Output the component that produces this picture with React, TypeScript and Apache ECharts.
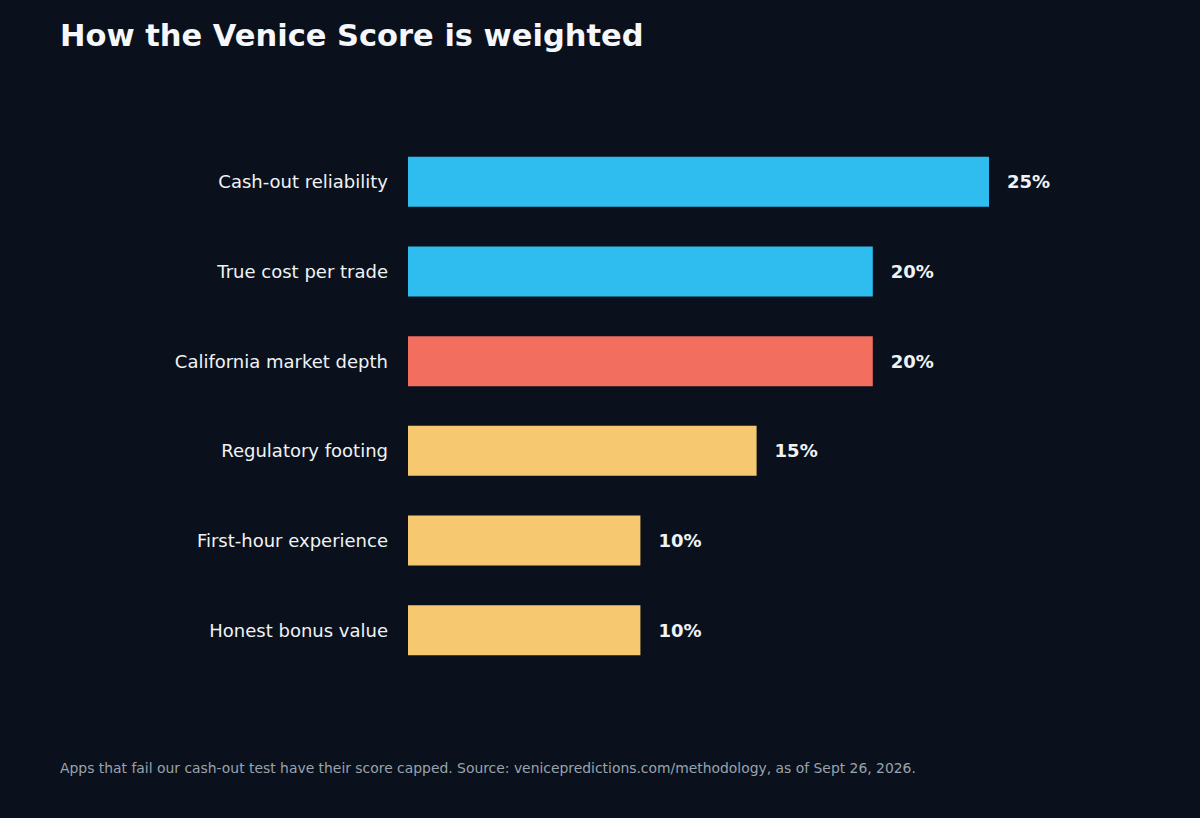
import React, { useRef, useEffect } from 'react'
import * as echarts from 'echarts'

const CATEGORIES = [
  'Cash-out reliability',
  'True cost per trade',
  'California market depth',
  'Regulatory footing',
  'First-hour experience',
  'Honest bonus value',
]
const WEIGHTS = [25, 20, 20, 15, 10, 10]
const BAR_COLORS = ['#2ebdee', '#2ebdee', '#f26e5f', '#f6c970', '#f6c970', '#f6c970']

const TITLE = 'How the Venice Score is weighted'
const FOOTNOTE =
  'Apps that fail our cash-out test have their score capped. Source: venicepredictions.com/methodology, as of Sept 26, 2026.'

const FONT = '"DejaVu Sans", sans-serif'

const App: React.FC = () => {
  const chartRef = useRef<HTMLDivElement>(null)

  useEffect(() => {
    document.body.style.margin = '0'
    if (!chartRef.current) return
    const chart = echarts.init(chartRef.current, undefined, { renderer: 'svg' })
    chart.setOption({
      animation: false,
      backgroundColor: '#0a111c',
      title: {
        text: TITLE,
        left: 55,
        top: 15,
        textStyle: { color: '#f5f7fa', fontSize: 30.5, fontWeight: 'bold', fontFamily: FONT },
      },
      graphic: [
        {
          type: 'text',
          left: 60,
          top: 761,
          style: { text: FOOTNOTE, fill: '#9aa3ad', fontSize: 13.9, fontFamily: FONT },
        },
      ],
      grid: { left: 408, top: 137, width: 581, height: 538, containLabel: false },
      xAxis: {
        type: 'value',
        min: 0,
        max: 25,
        show: false,
      },
      yAxis: {
        type: 'category',
        inverse: true,
        data: CATEGORIES,
        axisLine: { show: false },
        axisTick: { show: false },
        axisLabel: { color: '#f0f3f6', fontSize: 18, fontFamily: FONT, margin: 20 },
      },
      series: [
        {
          type: 'bar',
          barWidth: 50,
          data: WEIGHTS.map((v, i) => ({ value: v, itemStyle: { color: BAR_COLORS[i] } })),
          label: {
            show: true,
            position: 'right',
            distance: 18,
            formatter: '{c}%',
            color: '#f0f3f6',
            fontSize: 18,
            fontWeight: 'bold',
            fontFamily: FONT,
          },
        },
      ],
    })
    return () => chart.dispose()
  }, [])

  return <div ref={chartRef} style={{ width: 1200, height: 818 }} />
}

export default App
